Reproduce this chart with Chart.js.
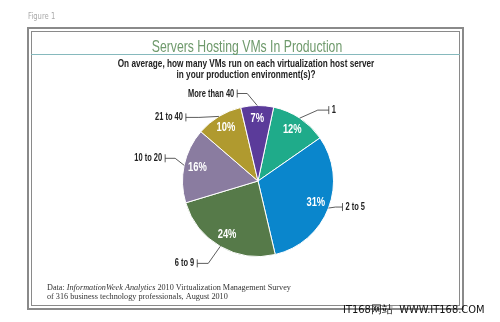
<!DOCTYPE html>
<html>
<head>
<meta charset="utf-8">
<script src="https://cdn.jsdelivr.net/npm/chart.js@4"></script>
<style>
  body { margin: 0; background: #fff; }
  canvas { display: block; }
</style>
</head>
<body>
<canvas id="vms_chart" width="500" height="322"></canvas>
<script>
// chart values
const categories = ["1", "2 to 5", "6 to 9", "10 to 20", "21 to 40", "More than 40"];
const percents = [12, 31, 24, 16, 10, 7];
const slice_colors = ["#1fab8a", "#0a86cc", "#567a49", "#8a7ca0", "#b09a2f", "#5b3b9a"];

const chart_title = "Servers Hosting VMs In Production";
const chart_subtitle = ["On average, how many VMs run on each virtualization host server",
                        "in your production environment(s)?"];
const figure_label = "Figure 1";
const watermark = "IT168\u7f51\u7ad9  WWW.IT168.COM";

// leader line layout: elbow offset from slice edge, then horizontal run to the tick
const leaders = [
    { dx: 18, dy: -8, run: 11 },
    { dx: 7, dy: -1, run: 7 },
    { dx: -12, dy: 17, run: 11 },
    { dx: -9, dy: -7, run: 10 },
    { dx: -20, dy: 1, run: 13 },
    { dx: -10, dy: -12, run: 10 }
];

const sans = "'Liberation Sans', Arial, sans-serif";

// the original uses a condensed face, so squeeze a normal one horizontally
function narrowText(ctx, text, x, y, align, squeeze) {
    ctx.save();
    ctx.translate(x, y);
    ctx.scale(squeeze, 1);
    ctx.textAlign = align;
    ctx.fillText(text, 0, 0);
    ctx.restore();
}

const vms_ctx = document.getElementById("vms_chart").getContext("2d");

const frame_plugin = {
    id: "frame",
    beforeDraw(chart) {
        const ctx = chart.ctx;
        ctx.save();
        ctx.fillStyle = "#fff";
        ctx.fillRect(0, 0, 500, 322);

        // figure label
        ctx.fillStyle = "#aaa";
        ctx.font = "8px 'DejaVu Sans', sans-serif";
        ctx.textBaseline = "alphabetic";
        narrowText(ctx, figure_label, 28, 19, "left", 0.85);

        // double border
        ctx.strokeStyle = "#8a8a8a";
        ctx.lineWidth = 2;
        ctx.strokeRect(28, 28, 435, 281);
        ctx.lineWidth = 1;
        ctx.strokeRect(31.5, 31.5, 428, 274);

        // rule under the title
        ctx.strokeStyle = "#86b9bd";
        ctx.beginPath();
        ctx.moveTo(31, 54.5);
        ctx.lineTo(460, 54.5);
        ctx.stroke();

        // title
        ctx.fillStyle = "#6f9a6c";
        ctx.font = "17px " + sans;
        narrowText(ctx, chart_title, 247, 52, "center", 0.72);

        // question
        ctx.fillStyle = "#222";
        ctx.font = "bold 10px " + sans;
        narrowText(ctx, chart_subtitle[0], 246, 67, "center", 0.82);
        narrowText(ctx, chart_subtitle[1], 246, 78, "center", 0.82);

        // source
        ctx.textAlign = "left";
        ctx.fillStyle = "#333";
        let x = 47;
        const parts = [["Data: ", ""], ["InformationWeek Analytics", "italic "],
                       [" 2010 Virtualization Management Survey", ""]];
        parts.forEach(p => {
            ctx.font = p[1] + "8.2px 'Liberation Serif', serif";
            ctx.fillText(p[0], x, 290);
            x += ctx.measureText(p[0]).width;
        });
        ctx.font = "8.2px 'Liberation Serif', serif";
        ctx.fillText("of 316 business technology professionals, August 2010", 47, 299);
        ctx.restore();
    },
    afterDraw(chart) {
        const ctx = chart.ctx;
        ctx.save();
        ctx.fillStyle = "#111";
        ctx.font = "11px 'DejaVu Sans Condensed', 'DejaVu Sans', sans-serif";
        ctx.textAlign = "left";
        ctx.fillText(watermark, 343, 313);
        ctx.restore();
    }
};

const label_plugin = {
    id: "slice_labels",
    afterDatasetsDraw(chart) {
        const ctx = chart.ctx;
        const arcs = chart.getDatasetMeta(0).data;
        ctx.save();
        ctx.textBaseline = "middle";
        arcs.forEach((arc, i) => {
            const p = arc.getProps(["x", "y", "startAngle", "endAngle", "outerRadius"], true);
            const mid = (p.startAngle + p.endAngle) / 2;
            const cos = Math.cos(mid), sin = Math.sin(mid);

            // percentage inside
            ctx.fillStyle = "#fff";
            ctx.font = "bold 12px " + sans;
            const pr = p.outerRadius * 0.82;
            narrowText(ctx, percents[i] + "%", p.x + cos * pr, p.y + sin * pr, "center", 0.78);

            // leader line
            const l = leaders[i];
            const sx = p.x + cos * p.outerRadius, sy = p.y + sin * p.outerRadius;
            const ex = sx + l.dx, ey = sy + l.dy;
            const dir = l.dx >= 0 ? 1 : -1;
            const tx = ex + dir * l.run;
            ctx.strokeStyle = "#333";
            ctx.lineWidth = 0.8;
            ctx.beginPath();
            ctx.moveTo(sx, sy);
            ctx.lineTo(ex, ey);
            ctx.lineTo(tx, ey);
            ctx.moveTo(tx, ey - 4);
            ctx.lineTo(tx, ey + 4);
            ctx.stroke();

            ctx.fillStyle = "#222";
            ctx.font = "bold 11px " + sans;
            narrowText(ctx, categories[i], tx + dir * 3, ey, dir > 0 ? "left" : "right", 0.68);
        });
        ctx.restore();
    }
};

const vms_config = {
    type: "pie",
    data: {
        labels: categories,
        datasets: [
            {
                label: "Share of respondents",
                data: percents,
                backgroundColor: slice_colors,
                borderColor: "#fff",
                borderWidth: 1
            }
        ]
    },
    options: {
        responsive: false,
        animation: false,
        rotation: 12,
        layout: {
            padding: { top: 105, bottom: 65, left: 100, right: 84 }
        },
        plugins: {
            legend: { display: false },
            title: { display: false },
            tooltip: { enabled: false }
        }
    },
    plugins: [frame_plugin, label_plugin]
};

const vms_pie = new Chart(vms_ctx, vms_config);
</script>
</body>
</html>
